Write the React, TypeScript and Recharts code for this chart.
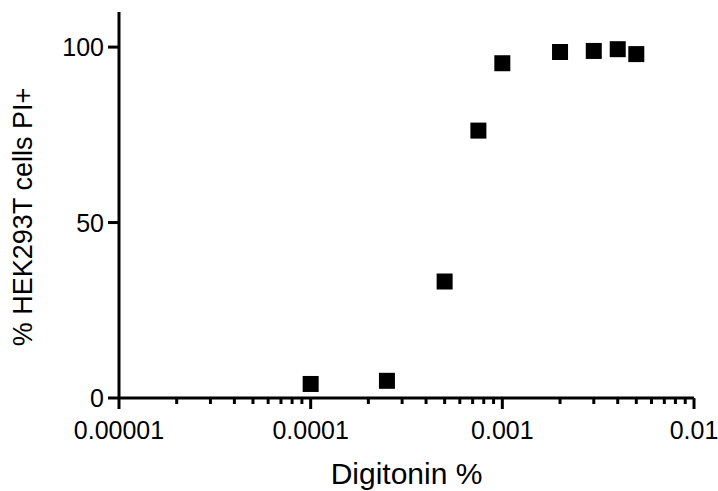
import React from 'react';
import { ScatterChart, Scatter, XAxis, YAxis, Label } from 'recharts';

// digitonin dose (%) vs. fraction of PI+ cells
const doses = [0.0001, 0.00025, 0.0005, 0.00075, 0.001, 0.002, 0.003, 0.004, 0.005];
const piPositive = [4.0, 4.9, 33.2, 76.2, 95.4, 98.6, 98.9, 99.4, 98.0];

const xMajorTicks = [0.00001, 0.0001, 0.001, 0.01];
const xTickLabels = ['0.00001', '0.0001', '0.001', '0.01'];
const yTicks = [0, 50, 100];

const minorTicks = xMajorTicks.slice(0, -1).flatMap(m =>
    [2, 3, 4, 5, 6, 7, 8, 9].map(k => Number((m * k).toPrecision(3)))
);
const xTicks = [...xMajorTicks, ...minorTicks].sort((a, b) => a - b);

const data = doses.map((d, i) => ({ dose: d, pi: piPositive[i] }));

const FONT = 'Arial, "Liberation Sans", sans-serif';

const XTick = (props: any) => {
    const { x, y, payload } = props;
    const idx = xMajorTicks.findIndex(v => Math.abs(v - payload.value) / v < 1e-6);
    const major = idx >= 0;
    return (
        <g>
            <line x1={x} x2={x} y1={y} y2={y + (major ? 11 : 6)} stroke="#000" strokeWidth={3} />
            {major && (
                <text x={x} y={y + 41} textAnchor="middle" fontSize={25} fontFamily={FONT} fill="#000">
                    {xTickLabels[idx]}
                </text>
            )}
        </g>
    );
};

const YTick = (props: any) => {
    const { x, y, payload } = props;
    return (
        <g>
            <line x1={x} x2={x - 11} y1={y} y2={y} stroke="#000" strokeWidth={3} />
            <text x={x - 15} y={y + 9} textAnchor="end" fontSize={25} fontFamily={FONT} fill="#000">
                {payload.value}
            </text>
        </g>
    );
};

const SquareDot = (props: any) => {
    const { cx, cy } = props;
    return <rect x={cx - 8} y={cy - 8} width={16} height={16} fill="#000" />;
};

const YLabel = (props: any) => {
    const { viewBox } = props;
    const cx = 23;
    const cy = viewBox.y + viewBox.height / 2 + 12;
    return (
        <text x={cx} y={cy} transform={`rotate(-90 ${cx} ${cy})`} textAnchor="middle" dominantBaseline="central"
            fontSize={27} fontFamily={FONT} fill="#000">
            % HEK293T cells PI+
        </text>
    );
};

export default function App() {
    return (
        <div style={{ position: 'absolute', left: 0, top: 0, background: '#fff' }}>
            <ScatterChart width={718} height={491} margin={{ top: 12, right: 24, bottom: 0, left: 0 }}>
                <XAxis
                    dataKey="dose"
                    type="number"
                    scale="log"
                    domain={[0.00001, 0.01]}
                    ticks={xTicks}
                    interval={0}
                    allowDataOverflow
                    height={93}
                    tickSize={0}
                    tickMargin={0}
                    tickLine={false}
                    axisLine={{ stroke: '#000', strokeWidth: 3 }}
                    tick={<XTick />}
                >
                    <Label value="Digitonin %" position="insideBottom" offset={7}
                        style={{ fontSize: 30, fontFamily: FONT, fill: '#000' }} />
                </XAxis>
                <YAxis
                    dataKey="pi"
                    type="number"
                    domain={[0, 110]}
                    ticks={yTicks}
                    interval={0}
                    width={119}
                    tickSize={0}
                    tickMargin={0}
                    tickLine={false}
                    axisLine={{ stroke: '#000', strokeWidth: 3 }}
                    tick={<YTick />}
                    label={<YLabel />}
                />
                <Scatter data={data} shape={<SquareDot />} isAnimationActive={false} />
            </ScatterChart>
        </div>
    );
}
